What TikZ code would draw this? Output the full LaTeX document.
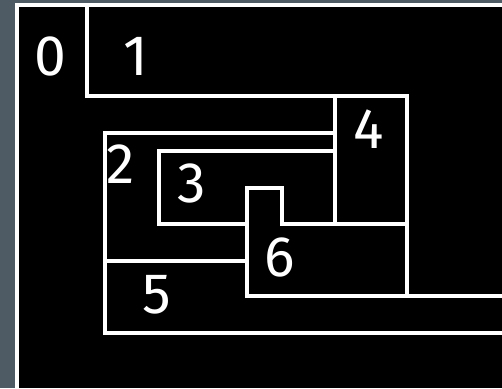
\documentclass[tikz,border=0pt]{standalone}
\usepackage{fontspec}
\setmainfont{Fira Sans}
\definecolor{frame}{HTML}{4E5A64}
\tikzset{
  wline/.style={draw=white, line width=3.2pt, line cap=rect},
  lbl/.style={text=white, inner sep=0pt, anchor=base, font=\fontsize{57}{62}\selectfont},
}
\begin{document}
\begin{tikzpicture}[x=1pt,y=-1pt]
\useasboundingbox (0,0) rectangle (502,388);
\fill[frame] (0,0) rectangle (502,388);
\fill[black] (17,5) rectangle (502,388);
% outer frame
\draw[draw=white, line width=3.6pt] (17,388) -- (17,5) -- (502,5);
% box 1
\draw[wline] (87,5) -- (87,96) -- (407,96);
% box 4
\draw[wline] (335,96) -- (335,224);
\draw[wline] (407,96) -- (407,296);
\draw[wline] (282,224) -- (407,224);
% box 2
\draw[wline] (105,133) -- (105,333);
\draw[wline] (105,133) -- (335,133);
% box 3
\draw[wline] (159,224) -- (159,151) -- (335,151);
\draw[wline] (159,224) -- (247,224);
% box 6
\draw[wline] (247,296) -- (247,188) -- (282,188) -- (282,224);
\draw[wline] (247,296) -- (502,296);
% box 5
\draw[wline] (105,261) -- (247,261);
\draw[wline] (105,333) -- (502,333);
% labels
\node[lbl] (l0) at (50,75) {0};
\node[lbl] (l1) at (136,75) {1};
\node[lbl] (l2) at (121,183) {2};
\node[lbl] (l3) at (192,202) {3};
\node[lbl] (l4) at (369,148) {4};
\node[lbl] (l5) at (157,313) {5};
\node[lbl] (l6) at (280,276) {6};
\end{tikzpicture}
\end{document}
